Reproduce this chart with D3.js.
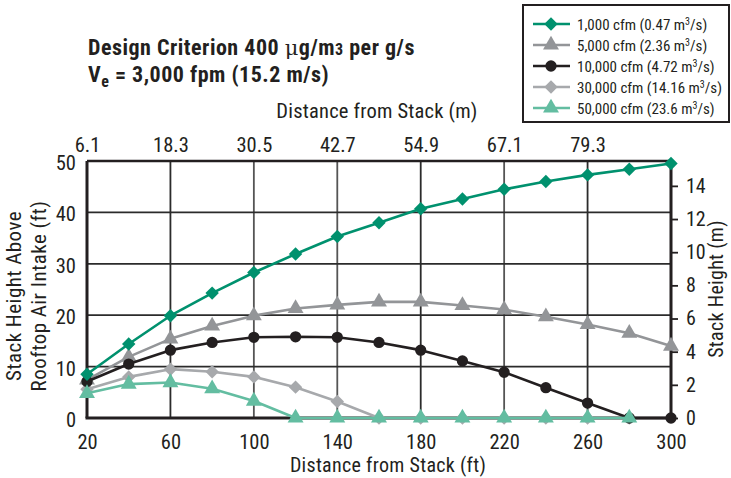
<!DOCTYPE html>
<html><head><meta charset="utf-8">
<script src="https://cdn.jsdelivr.net/npm/d3@7"></script>
<style>
body{margin:0;background:#fff;}
svg{display:block;}
text{font-family:"Liberation Sans Narrow","Arial Narrow","Roboto Condensed",sans-serif;fill:#231f20;}
</style></head>
<body><svg id="c" width="731" height="478"></svg>
<script>
// ---- data ----
const distFt = [20,40,60,80,100,120,140,160,180,200,220,240,260,280,300];
const cfm1000  = [8.5,14.4,19.9,24.3,28.3,31.9,35.3,38.0,40.7,42.6,44.5,46.0,47.3,48.4,49.5];
const cfm5000  = [7.4,11.9,15.4,17.9,19.9,21.3,22.0,22.6,22.6,21.9,21.1,19.7,18.2,16.5,14.0];
const cfm10000 = [7.1,10.5,13.2,14.7,15.7,15.8,15.7,14.7,13.2,11.1,8.9,5.9,2.9,0,0];
const cfm30000 = [5.6,8.0,9.5,9.0,8.0,6.0,3.2,0,0,0,0,0,0,0];
const cfm50000 = [4.8,6.6,6.9,5.7,3.3,0,0,0,0,0,0,0,0,0];
const seriesNames = ["1,000 cfm (0.47 m","5,000 cfm (2.36 m","10,000 cfm (4.72 m","30,000 cfm (14.16 m","50,000 cfm (23.6 m"];
const bottomTicks = [20,60,100,140,180,220,260,300];
const topTickFt = [20,60,100,140,180,220,260];
const topTickLabels = ["6.1","18.3","30.5","42.7","54.9","67.1","79.3"];
const leftTicks = [0,10,20,30,40,50];
const rightTicks = [0,2,4,6,8,10,12,14];

const svg = d3.select("#c");
const x = d3.scaleLinear().domain([20,300]).range([87,671]);
const y = d3.scaleLinear().domain([0,50]).range([418,161]);
const ym = d3.scaleLinear().domain([0,15.5]).range([418,161]);

// gridlines
const g = svg.append("g");
g.selectAll("line.v").data([60,100,140,180,220,260]).join("line")
  .attr("x1",d=>x(d)).attr("x2",d=>x(d)).attr("y1",y(50)).attr("y2",y(0))
  .attr("stroke",(d,i)=>[ "#2b2b2b","#555","#555","#2b2b2b","#555","#2b2b2b"][i]).attr("stroke-width",1.8);
g.selectAll("line.h").data([10,20,30,40]).join("line")
  .attr("x1",x(20)).attr("x2",x(300)).attr("y1",d=>y(d)).attr("y2",d=>y(d))
  .attr("stroke","#2b2b2b").attr("stroke-width",1.8);

// frame
svg.append("line").attr("x1",x(20)).attr("x2",x(300)).attr("y1",y(50)).attr("y2",y(50)).attr("stroke","#231f20").attr("stroke-width",2.6);
svg.append("line").attr("x1",x(20)-1.5).attr("x2",x(300)+1.5).attr("y1",y(0)).attr("y2",y(0)).attr("stroke","#231f20").attr("stroke-width",3);
svg.append("line").attr("x1",x(20)).attr("x2",x(20)).attr("y1",y(50)).attr("y2",y(0)).attr("stroke","#231f20").attr("stroke-width",3);

// right axis
const ra = svg.append("g").attr("transform",`translate(${x(300)},0)`)
  .call(d3.axisRight(ym).tickValues(rightTicks).tickSize(7).tickPadding(8).tickFormat(d3.format("d")));
ra.select(".domain").attr("stroke","#231f20").attr("stroke-width",3).attr("d",`M0,${y(50)}V${y(0)}`);
ra.selectAll(".tick line").attr("stroke","#231f20").attr("stroke-width",1.8);
ra.selectAll(".tick text").attr("font-size",20).attr("fill","#231f20").style("font-family",null);

// left labels
const la = svg.append("g").attr("transform",`translate(${x(20)},2)`)
  .call(d3.axisLeft(y).tickValues(leftTicks).tickSize(0).tickPadding(11).tickFormat(d3.format("d")));
la.select(".domain").remove();
la.selectAll(".tick text").attr("font-size",20.5).attr("fill","#231f20").style("font-family",null);

// bottom labels
const ba = svg.append("g").attr("transform",`translate(0,${y(0)})`)
  .call(d3.axisBottom(x).tickValues(bottomTicks).tickSize(0).tickPadding(16).tickFormat(d3.format("d")));
ba.select(".domain").remove();
ba.selectAll(".tick text").attr("font-size",20.5).attr("fill","#231f20").style("font-family",null);

// top labels
const ta = svg.append("g").attr("transform",`translate(0,${y(50)})`)
  .call(d3.axisTop(x).tickValues(topTickFt).tickSize(0).tickPadding(9).tickFormat((d,i)=>topTickLabels[i]));
ta.select(".domain").remove();
ta.selectAll(".tick text").attr("font-size",20.5).attr("fill","#231f20").style("font-family",null);

// axis titles
svg.append("text").attr("x",377).attr("y",118).attr("text-anchor","middle").attr("font-size",20.5).attr("letter-spacing",0.2).text("Distance from Stack (m)");
svg.append("text").attr("x",388).attr("y",472).attr("text-anchor","middle").attr("font-size",20).attr("letter-spacing",0.3).text("Distance from Stack (ft)");
const lt = svg.append("text").attr("transform","translate(21,296) rotate(-90)").attr("text-anchor","middle").attr("font-size",21).attr("letter-spacing",0.45);
lt.append("tspan").attr("x",0).attr("y",0).text("Stack Height Above");
lt.append("tspan").attr("x",0).attr("y",25).text("Rooftop Air Intake (ft)");
svg.append("text").attr("transform","translate(723,289) rotate(-90)").attr("text-anchor","middle").attr("font-size",20).attr("letter-spacing",0.3).text("Stack Height (m)");

// titles
const t1 = svg.append("text").attr("x",88).attr("y",55).attr("font-size",22).attr("font-weight","bold").attr("letter-spacing",0.5);
t1.append("tspan").text("Design Criterion 400 ");
t1.append("tspan").attr("font-weight","normal").attr("font-family","DejaVu Serif, serif").attr("font-size",21).text("μ");
t1.append("tspan").text("g/m");
t1.append("tspan").attr("font-size",16).text("3");
t1.append("tspan").text(" per g/s");
const t2 = svg.append("text").attr("x",88).attr("y",82).attr("font-size",22).attr("font-weight","bold").attr("letter-spacing",0.5);
t2.append("tspan").text("V");
t2.append("tspan").attr("font-size",16).attr("dy",5).text("e");
t2.append("tspan").attr("dy",-5).text(" = 3,000 fpm (15.2 m/s)");

// series (diamonds drawn as squares rotated 45°)
const series = [
  {vals:cfm5000, color:"#939598", sym:d3.symbolTriangle, size:110, rot:0},
  {vals:cfm30000, color:"#a7a9ac", sym:d3.symbolSquare, size:90, rot:45},
  {vals:cfm10000, color:"#231f20", sym:d3.symbolCircle, size:100, rot:0},
  {vals:cfm50000, color:"#63bda1", sym:d3.symbolTriangle, size:110, rot:0},
  {vals:cfm1000, color:"#00916e", sym:d3.symbolSquare, size:90, rot:45},
];
const line = d3.line().x((d,i)=>x(distFt[i])).y(d=>y(d));
series.forEach(s=>{
  svg.append("path").datum(s.vals).attr("d",line).attr("fill","none")
    .attr("stroke",s.color).attr("stroke-width",2.6).attr("stroke-linejoin","round");
  svg.append("g").selectAll("path").data(s.vals).join("path")
    .attr("transform",(d,i)=>`translate(${x(distFt[i])},${y(d)}) rotate(${s.rot})`)
    .attr("d",d3.symbol().type(s.sym).size(s.size)).attr("fill",s.color);
});

// legend
const legOrder = [
  {color:"#00916e", sym:d3.symbolSquare, size:90, rot:45},
  {color:"#939598", sym:d3.symbolTriangle, size:110, rot:0},
  {color:"#231f20", sym:d3.symbolCircle, size:100, rot:0},
  {color:"#a7a9ac", sym:d3.symbolSquare, size:90, rot:45},
  {color:"#63bda1", sym:d3.symbolTriangle, size:110, rot:0},
];
svg.append("rect").attr("x",523).attr("y",5).attr("width",206).attr("height",117)
  .attr("fill","#fff").attr("stroke","#231f20").attr("stroke-width",2);
const lg = svg.append("g").selectAll("g").data(legOrder).join("g")
  .attr("transform",(d,i)=>`translate(0,${24+i*21})`);
lg.append("line").attr("x1",533).attr("x2",570).attr("stroke",d=>d.color).attr("stroke-width",2.6);
lg.append("path").attr("transform",d=>`translate(551,0) rotate(${d.rot})`).attr("d",d=>d3.symbol().type(d.sym).size(d.size)()).attr("fill",d=>d.color);
const lt2 = lg.append("text").attr("x",577).attr("y",5.5).attr("font-size",15);
lt2.append("tspan").text((d,i)=>seriesNames[i]);
lt2.append("tspan").attr("font-size",10).attr("dy",-5).text("3");
lt2.append("tspan").attr("dy",5).text("/s)");
</script></body></html>
